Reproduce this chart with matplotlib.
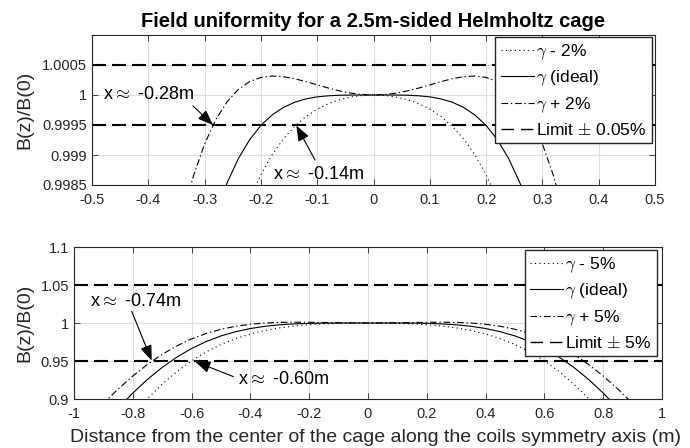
import matplotlib
matplotlib.use('Agg')
import numpy as np
import matplotlib.pyplot as plt
from matplotlib.lines import Line2D

plt.rcParams['font.family'] = ['Liberation Sans', 'DejaVu Sans']
plt.rcParams['mathtext.fontset'] = 'cm'
plt.rcParams['axes.unicode_minus'] = False

# ---------------- data (x >= 0 half, curves are symmetric) ----
x_top_half = [0.00, 0.02, 0.04, 0.06, 0.08, 0.10, 0.12, 0.14, 0.16, 0.18,
              0.20, 0.22, 0.24, 0.26, 0.28, 0.30, 0.32, 0.34]
top_minus = [1.0, 0.999992, 0.999966, 0.999922, 0.999856, 0.999764, 0.99964,
             0.999478, 0.99927, 0.999004, 0.998673, 0.998263, 0.99776, 0.99715,
             0.996416, 0.995539, 0.9945, 0.993275]
top_ideal = [1.0, 1.0, 0.999999, 0.999996, 0.999987, 0.999969, 0.999935,
             0.999879, 0.999793, 0.999668, 0.999493, 0.999255, 0.998941,
             0.998536, 0.998023, 0.997384, 0.996599, 0.995645]
top_plus = [1.0, 1.000008, 1.000031, 1.000068, 1.000115, 1.000169, 1.000223,
            1.000271, 1.000305, 1.000316, 1.000293, 1.000223, 1.000093,
            0.999888, 0.999591, 0.999184, 0.998647, 0.997957]
top_limits = [0.9995, 1.0005]

x_bot_half = [0.00, 0.05, 0.10, 0.15, 0.20, 0.25, 0.30, 0.35, 0.40, 0.45, 0.50,
              0.55, 0.60, 0.65, 0.70, 0.75, 0.80, 0.85, 0.90, 0.95, 1.00]
bot_minus = [1.0, 0.99989, 0.99952, 0.99884, 0.99772, 0.99604, 0.99359, 0.99017,
             0.98555, 0.97949, 0.97173, 0.96206, 0.95024, 0.93612, 0.91956,
             0.90051, 0.87902, 0.85522, 0.82938, 0.80194, 0.7735]
bot_ideal = [1.0, 1.0, 0.99997, 0.99985, 0.99952, 0.99885, 0.99764, 0.99568,
             0.99275, 0.9886, 0.98298, 0.97567, 0.96644, 0.95513, 0.94161,
             0.92582, 0.90782, 0.88773, 0.86583, 0.84256, 0.8185]
bot_plus = [1.0, 1.00009, 1.00032, 1.00064, 1.00092, 1.00104, 1.00079, 0.99997,
            0.99835, 0.99569, 0.99173, 0.98626, 0.97904, 0.96992, 0.95876,
            0.94551, 0.93022, 0.91302, 0.89418, 0.87414, 0.8535]
bot_limits = [0.95, 1.05]

top_xticks = [-0.5, -0.4, -0.3, -0.2, -0.1, 0, 0.1, 0.2, 0.3, 0.4, 0.5]
top_xticklabels = ['-0.5', '-0.4', '-0.3', '-0.2', '-0.1', '0', '0.1', '0.2', '0.3', '0.4', '0.5']
top_yticks = [0.9985, 0.999, 0.9995, 1.0, 1.0005]
top_yticklabels = ['0.9985', '0.999', '0.9995', '1', '1.0005']
bot_xticks = [-1, -0.8, -0.6, -0.4, -0.2, 0, 0.2, 0.4, 0.6, 0.8, 1]
bot_xticklabels = ['-1', '-0.8', '-0.6', '-0.4', '-0.2', '0', '0.2', '0.4', '0.6', '0.8', '1']
bot_yticks = [0.9, 0.95, 1.0, 1.05, 1.1]
bot_yticklabels = ['0.9', '0.95', '1', '1.05', '1.1']


def mirror(xh, yh):
    xh = np.asarray(xh, float)
    yh = np.asarray(yh, float)
    return np.concatenate([-xh[:0:-1], xh]), np.concatenate([yh[:0:-1], yh])


W, H = 690, 448
fig = plt.figure(figsize=(W / 100, H / 100), dpi=100)


def px_axes(l, t, r, b):
    return fig.add_axes([l / W, 1 - b / H, (r - l) / W, (b - t) / H])


ax1 = px_axes(92, 35, 655, 185)
ax2 = px_axes(74, 247, 662, 399)

DARK = '#262626'
dot_ls = (0, (1, 3))
dd_ls = (0, (6, 2.5, 1.2, 2.5))
dash_ls = (0, (6.7, 2.9))


def style(ax, xt, xtl, yt, ytl, xlim, ylim):
    ax.set_xlim(*xlim)
    ax.set_ylim(*ylim)
    ax.set_xticks(xt)
    ax.set_xticklabels(xtl)
    ax.set_yticks(yt)
    ax.set_yticklabels(ytl)
    ax.grid(True, color='#dedede', lw=0.8)
    ax.set_axisbelow(True)
    ax.tick_params(direction='in', top=True, right=True, length=4, width=0.6,
                   color=DARK, labelcolor=DARK, labelsize=10.5)
    ax.tick_params(axis='x', pad=6)
    for s in ax.spines.values():
        s.set_color(DARK)
        s.set_linewidth(0.8)


def draw(ax, xh, ym, yi, yp, lims, lab, pct, anchor):
    x, y = mirror(xh, ym)
    h1, = ax.plot(x, y, color='k', lw=0.8, ls=dot_ls)
    x, y = mirror(xh, yi)
    h2, = ax.plot(x, y, color='k', lw=0.8, ls='-')
    x, y = mirror(xh, yp)
    h3, = ax.plot(x, y, color='k', lw=0.8, ls=dd_ls)
    for v in lims:
        ax.axhline(v, color='k', lw=1.5, ls=dash_ls)
    h4 = Line2D([], [], color='k', lw=1.0, ls=(0, (9, 5)))
    ax.legend([h1, h2, h3, h4],
              [r'$\gamma$ - %s' % pct, r'$\gamma$ (ideal)', r'$\gamma$ + %s' % pct,
               r'Limit $\pm$ %s' % lab],
              loc='upper right', bbox_to_anchor=anchor, borderaxespad=0,
              fontsize=12.5, frameon=True, fancybox=False, framealpha=1,
              edgecolor=DARK, borderpad=0.3, handlelength=1.9,
              handletextpad=0.15, labelspacing=0.4)


style(ax1, top_xticks, top_xticklabels, top_yticks, top_yticklabels, (-0.5, 0.5), (0.9985, 1.001))
style(ax2, bot_xticks, bot_xticklabels, bot_yticks, bot_yticklabels, (-1, 1), (0.9, 1.1))

draw(ax1, x_top_half, top_minus, top_ideal, top_plus, top_limits, '0.05%', '2%',
     ((652 - 92) / 563, (185 - 37) / 150))
draw(ax2, x_bot_half, bot_minus, bot_ideal, bot_plus, bot_limits, '5%', '5%',
     ((657 - 74) / 588, (399 - 250) / 152))

ax1.set_title('Field uniformity for a 2.5m-sided Helmholtz cage', fontsize=14.5,
              fontweight='bold', color='k', pad=6)
ax1.set_ylabel('B(z)/B(0)', fontsize=14, color=DARK, va='center')
ax1.yaxis.set_label_coords((25 - 92) / 563, 0.5)
ax2.set_ylabel('B(z)/B(0)', fontsize=14, color=DARK, va='center')
ax2.yaxis.set_label_coords((24.5 - 74) / 588, 0.5)
ax2.set_xlabel('Distance from the center of the cage along the coils symmetry axis (m)',
               fontsize=14, color=DARK, va='center')
ax2.xaxis.set_label_coords((376 - 74) / 588, (399 - 437) / 152)

# annotations
arrowprops = dict(arrowstyle='-|>,head_length=0.94,head_width=0.36', mutation_scale=10,
                  color='k', lw=0.8, shrinkA=0, shrinkB=0)
ann_fs = 13
ax1.text(-0.4805, 1.0, r'x$\approx$ -0.28m', fontsize=ann_fs, va='center', ha='left', color='k')
ax1.annotate('', xy=(-0.285, 0.9995), xytext=(-0.3206, 0.999817), arrowprops=arrowprops)
ax1.text(-0.1785, 0.998667, r'x$\approx$ -0.14m', fontsize=ann_fs, va='center', ha='left', color='k')
ax1.annotate('', xy=(-0.137, 0.99949), xytext=(-0.1039, 0.998917), arrowprops=arrowprops)

ax2.text(-0.9456, 1.0285, r'x$\approx$ -0.74m', fontsize=ann_fs, va='center', ha='left', color='k')
ax2.annotate('', xy=(-0.7357, 0.9505), xytext=(-0.8037, 1.0153), arrowprops=arrowprops)
ax2.text(-0.442, 0.926, r'x$\approx$ -0.60m', fontsize=ann_fs, va='center', ha='left', color='k')
ax2.annotate('', xy=(-0.5884, 0.9493), xytext=(-0.4582, 0.9295), arrowprops=arrowprops)

fig.savefig('out.png', dpi=100)
